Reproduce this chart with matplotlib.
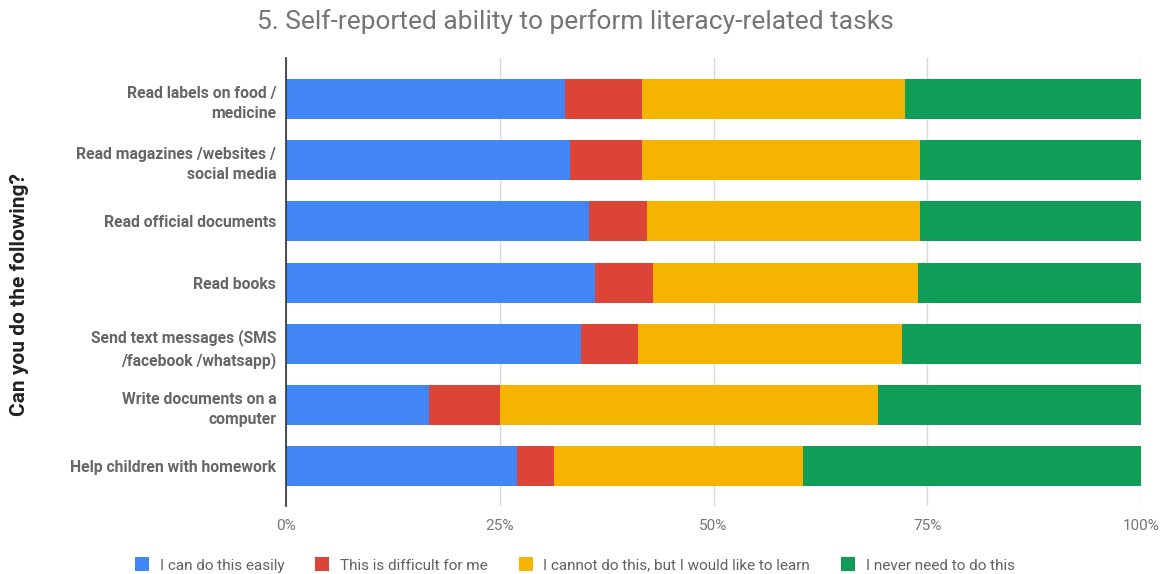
"""Stacked horizontal bar chart: self-reported literacy task ability."""

import matplotlib

matplotlib.use("Agg")
import matplotlib.pyplot as plt
from matplotlib.patches import Patch

plt.rcParams["font.family"] = ["Roboto", "DejaVu Sans"]

TASKS = [
    "Read labels on food /\nmedicine",
    "Read magazines /websites /\nsocial media",
    "Read official documents",
    "Read books",
    "Send text messages (SMS\n/facebook /whatsapp)",
    "Write documents on a\ncomputer",
    "Help children with homework",
]
SERIES = [
    "I can do this easily",
    "This is difficult for me",
    "I cannot do this, but I would like to learn",
    "I never need to do this",
]
EASY = [32.6, 33.2, 35.4, 36.1, 34.5, 16.7, 27.0]
DIFFICULT = [9.0, 8.4, 6.8, 6.8, 6.7, 8.3, 4.3]
WANT_TO_LEARN = [30.8, 32.5, 31.9, 31.0, 30.9, 44.2, 29.2]
NEVER_NEED = [27.6, 25.9, 25.9, 26.1, 27.9, 30.8, 39.5]
X_TICKS = [0, 25, 50, 75, 100]
X_TICK_LABELS = ["0%", "25%", "50%", "75%", "100%"]

COLORS = ["#4285F4", "#DB4437", "#F4B400", "#0F9D58"]

fig = plt.figure(figsize=(11.66, 5.74), dpi=100)
ax = fig.add_axes([286 / 1166, 1 - 506 / 574, 855 / 1166, 448 / 574])

positions = list(range(len(TASKS)))
left = [0.0] * len(TASKS)
for values, color, label in zip([EASY, DIFFICULT, WANT_TO_LEARN, NEVER_NEED], COLORS, SERIES):
    ax.barh(positions, values, left=left, height=0.655, color=color, label=label, zorder=3)
    left = [a + b for a, b in zip(left, values)]

ax.set_xlim(0, 100)
ax.set_ylim(6.65, -0.67)
ax.set_xticks(X_TICKS)
ax.set_xticklabels(X_TICK_LABELS, color="#757575", fontsize=11)
ax.set_yticks(positions)
ax.set_yticklabels(TASKS, color="#666666", fontsize=11.3, fontweight="bold", linespacing=1.45)
ax.tick_params(axis="y", length=0, pad=7)
ax.tick_params(axis="x", length=0, pad=9)
ax.grid(axis="x", color="#d9d9d9", linewidth=1, zorder=0)
for side in ["top", "right", "bottom"]:
    ax.spines[side].set_visible(False)
ax.spines["left"].set_color("#333333")
ax.spines["left"].set_linewidth(1.2)
ax.spines["left"].set_zorder(4)

fig.text(20 / 1166, 1 - 295 / 574, "Can you do the following?", rotation=90,
         ha="center", va="center", fontsize=15, fontweight="bold", color="#222222")
fig.text(575 / 1166, 1 - 22 / 574, "5. Self-reported ability to perform literacy-related tasks",
         ha="center", va="center", fontsize=19, color="#757575")

handles = [Patch(facecolor=c, label=s) for c, s in zip(COLORS, SERIES)]
fig.legend(handles=handles, loc="center", bbox_to_anchor=(575 / 1166, 1 - 565 / 574),
           ncol=4, frameon=False, fontsize=11, handlelength=0.9, handleheight=1.0,
           handletextpad=0.7, columnspacing=2.05, labelcolor="#616161")

fig.savefig("out.png", dpi=100)
plt.close(fig)
